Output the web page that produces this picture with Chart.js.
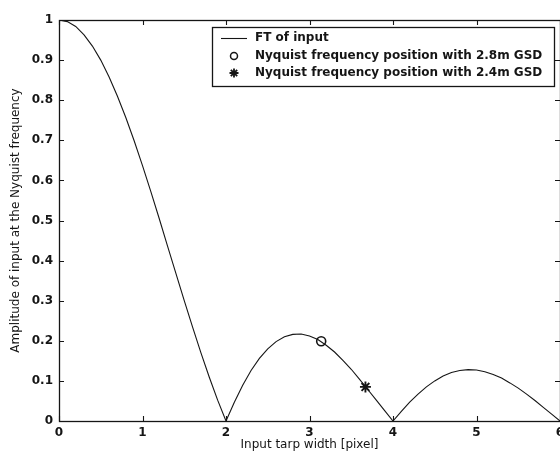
<!DOCTYPE html>
<html>
<head>
<meta charset="utf-8">
<title>FT of input tarp</title>
<script src="https://cdn.jsdelivr.net/npm/chart.js@4/dist/chart.umd.min.js"></script>
<style>
  html, body { margin: 0; padding: 0; background: #fff; overflow: hidden; }
  #wrap { width: 560px; height: 460px; overflow: hidden; }
  canvas { display: block; }
</style>
</head>
<body>
<div id="wrap"><canvas id="c" width="580" height="460"></canvas></div>
<script>
// Tarp width in pixels and the magnitude of the FT at the Nyquist frequency
const tarpWidth = [
  0.0, 0.1, 0.2, 0.3, 0.4, 0.5, 0.6, 0.7, 0.8, 0.9,
  1.0, 1.1, 1.2, 1.3, 1.4, 1.5, 1.6, 1.7, 1.8, 1.9,
  2.0, 2.1, 2.2, 2.3, 2.4, 2.5, 2.6, 2.7, 2.8, 2.9,
  3.0, 3.1, 3.2, 3.3, 3.4, 3.5, 3.6, 3.7, 3.8, 3.9,
  4.0, 4.1, 4.2, 4.3, 4.4, 4.5, 4.6, 4.7, 4.8, 4.9,
  5.0, 5.1, 5.2, 5.3, 5.4, 5.5, 5.6, 5.7, 5.8, 5.9,
  6.0
];
const amplitude = [
  1.000, 0.996, 0.984, 0.963, 0.935, 0.900, 0.858, 0.810, 0.757, 0.699,
  0.637, 0.572, 0.505, 0.436, 0.368, 0.300, 0.234, 0.170, 0.109, 0.052,
  0.000, 0.047, 0.089, 0.126, 0.156, 0.180, 0.198, 0.210, 0.216, 0.217,
  0.212, 0.203, 0.189, 0.172, 0.151, 0.129, 0.104, 0.078, 0.052, 0.026,
  0.000, 0.024, 0.047, 0.067, 0.085, 0.100, 0.112, 0.121, 0.126, 0.128,
  0.127, 0.123, 0.116, 0.107, 0.095, 0.082, 0.067, 0.051, 0.034, 0.017,
  0.000
];

// Nyquist frequency positions for the two ground sample distances
const nyquist28 = { x: 3.14, y: 0.199 };
const nyquist24 = { x: 3.67, y: 0.085 };

const seriesLabels = [
  'FT of input',
  'Nyquist frequency position with 2.8m GSD',
  'Nyquist frequency position with 2.4m GSD'
];

const xTicks = [0, 1, 2, 3, 4, 5, 6];
const xTickLabels = ['0', '1', '2', '3', '4', '5', '6'];
const yTicks = [0, 0.1, 0.2, 0.3, 0.4, 0.5, 0.6, 0.7, 0.8, 0.9, 1];
const yTickLabels = ['0', '0.1', '0.2', '0.3', '0.4', '0.5', '0.6', '0.7', '0.8', '0.9', '1'];

const xTitle = 'Input tarp width [pixel]';
const yTitle = 'Amplitude of input at the Nyquist frequency';

const INK = '#151515';
const FONT = "'DejaVu Sans', 'Liberation Sans', sans-serif";

// Axes box with inward tick marks on all four sides
const framePlugin = {
  id: 'frame',
  afterDatasetsDraw(chart) {
    const { ctx, chartArea: a, scales } = chart;
    ctx.save();
    ctx.strokeStyle = INK;
    ctx.lineWidth = 1.3;
    ctx.strokeRect(a.left + 0.5, a.top + 0.5, a.right - a.left, a.bottom - a.top);
    const len = 5;
    ctx.lineWidth = 1.1;
    ctx.beginPath();
    xTicks.forEach(v => {
      const px = Math.round(scales.x.getPixelForValue(v)) + 0.5;
      ctx.moveTo(px, a.bottom); ctx.lineTo(px, a.bottom - len);
      ctx.moveTo(px, a.top); ctx.lineTo(px, a.top + len);
    });
    yTicks.forEach(v => {
      const py = Math.round(scales.y.getPixelForValue(v)) + 0.5;
      ctx.moveTo(a.left, py); ctx.lineTo(a.left + len, py);
      ctx.moveTo(a.right, py); ctx.lineTo(a.right - len, py);
    });
    ctx.stroke();
    ctx.restore();
  },
  afterDraw(chart) {
    // Legend box in the upper right of the axes
    const { ctx } = chart;
    const box = { left: 212.5, top: 27.5, right: 554.5, bottom: 86.5 };
    const rows = [38, 56, 73];
    ctx.save();
    ctx.fillStyle = '#fff';
    ctx.fillRect(box.left, box.top, box.right - box.left, box.bottom - box.top);
    ctx.strokeStyle = INK;
    ctx.lineWidth = 1.3;
    ctx.strokeRect(box.left, box.top, box.right - box.left, box.bottom - box.top);

    const sx = 234;
    // line sample
    ctx.lineWidth = 1.1;
    ctx.beginPath();
    ctx.moveTo(221, rows[0] + 0.5); ctx.lineTo(247, rows[0] + 0.5);
    ctx.stroke();
    // marker samples drawn with the same styles as the points
    ctx.lineWidth = 1.5;
    ctx.fillStyle = '#fff';
    Chart.helpers.drawPoint(ctx, { pointStyle: 'circle', radius: 3.5, borderWidth: 1.5 }, sx, rows[1]);
    ctx.fillStyle = INK;
    ctx.lineWidth = 1.8;
    Chart.helpers.drawPoint(ctx, { pointStyle: 'star', radius: 4.5, borderWidth: 1.8 }, sx, rows[2]);

    ctx.fillStyle = INK;
    ctx.font = 'bold 12px ' + FONT;
    ctx.textBaseline = 'middle';
    ctx.textAlign = 'left';
    seriesLabels.forEach((t, i) => ctx.fillText(t, 255, rows[i]));
    ctx.restore();
  }
};

new Chart(document.getElementById('c'), {
  type: 'line',
  data: {
    datasets: [
      {
        label: seriesLabels[0],
        data: tarpWidth.map((x, i) => ({ x, y: amplitude[i] })),
        borderColor: INK,
        borderWidth: 1.1,
        pointRadius: 0,
        tension: 0,
        fill: false
      },
      {
        label: seriesLabels[1],
        data: [nyquist28],
        showLine: false,
        pointStyle: 'circle',
        pointRadius: 4.5,
        pointBorderWidth: 1.6,
        pointBorderColor: INK,
        pointBackgroundColor: '#fff'
      },
      {
        label: seriesLabels[2],
        data: [nyquist24],
        showLine: false,
        pointStyle: 'star',
        pointRadius: 5.5,
        pointBorderWidth: 1.9,
        pointBorderColor: INK,
        pointBackgroundColor: INK
      }
    ]
  },
  options: {
    responsive: false,
    animation: false,
    devicePixelRatio: 1,
    layout: { padding: { top: 20, right: 20, left: 0, bottom: 0 } },
    plugins: { legend: { display: false }, tooltip: { enabled: false } },
    scales: {
      x: {
        type: 'linear',
        min: 0,
        max: 6,
        afterBuildTicks(s) { s.ticks = xTicks.map(v => ({ value: v })); },
        afterFit(s) { s.height = 39; },
        ticks: {
          autoSkip: false,
          maxRotation: 0,
          padding: 5,
          color: INK,
          font: { family: FONT, size: 12, weight: 'bold' },
          callback: (v, i) => xTickLabels[i]
        },
        grid: { display: false, drawTicks: false },
        border: { display: false },
        title: {
          display: true,
          text: xTitle,
          color: INK,
          font: { family: FONT, size: 12 },
          padding: { top: 0, bottom: 8 }
        }
      },
      y: {
        type: 'linear',
        min: 0,
        max: 1,
        afterBuildTicks(s) { s.ticks = yTicks.map(v => ({ value: v })); },
        afterFit(s) { s.width = 59; },
        ticks: {
          autoSkip: false,
          padding: 6,
          color: INK,
          font: { family: FONT, size: 12, weight: 'bold' },
          callback: (v, i) => yTickLabels[i]
        },
        grid: { display: false, drawTicks: false },
        border: { display: false },
        title: {
          display: true,
          text: yTitle,
          color: INK,
          font: { family: FONT, size: 12 },
          padding: { top: 9, bottom: 0 }
        }
      }
    }
  },
  plugins: [framePlugin]
});
</script>
</body>
</html>
